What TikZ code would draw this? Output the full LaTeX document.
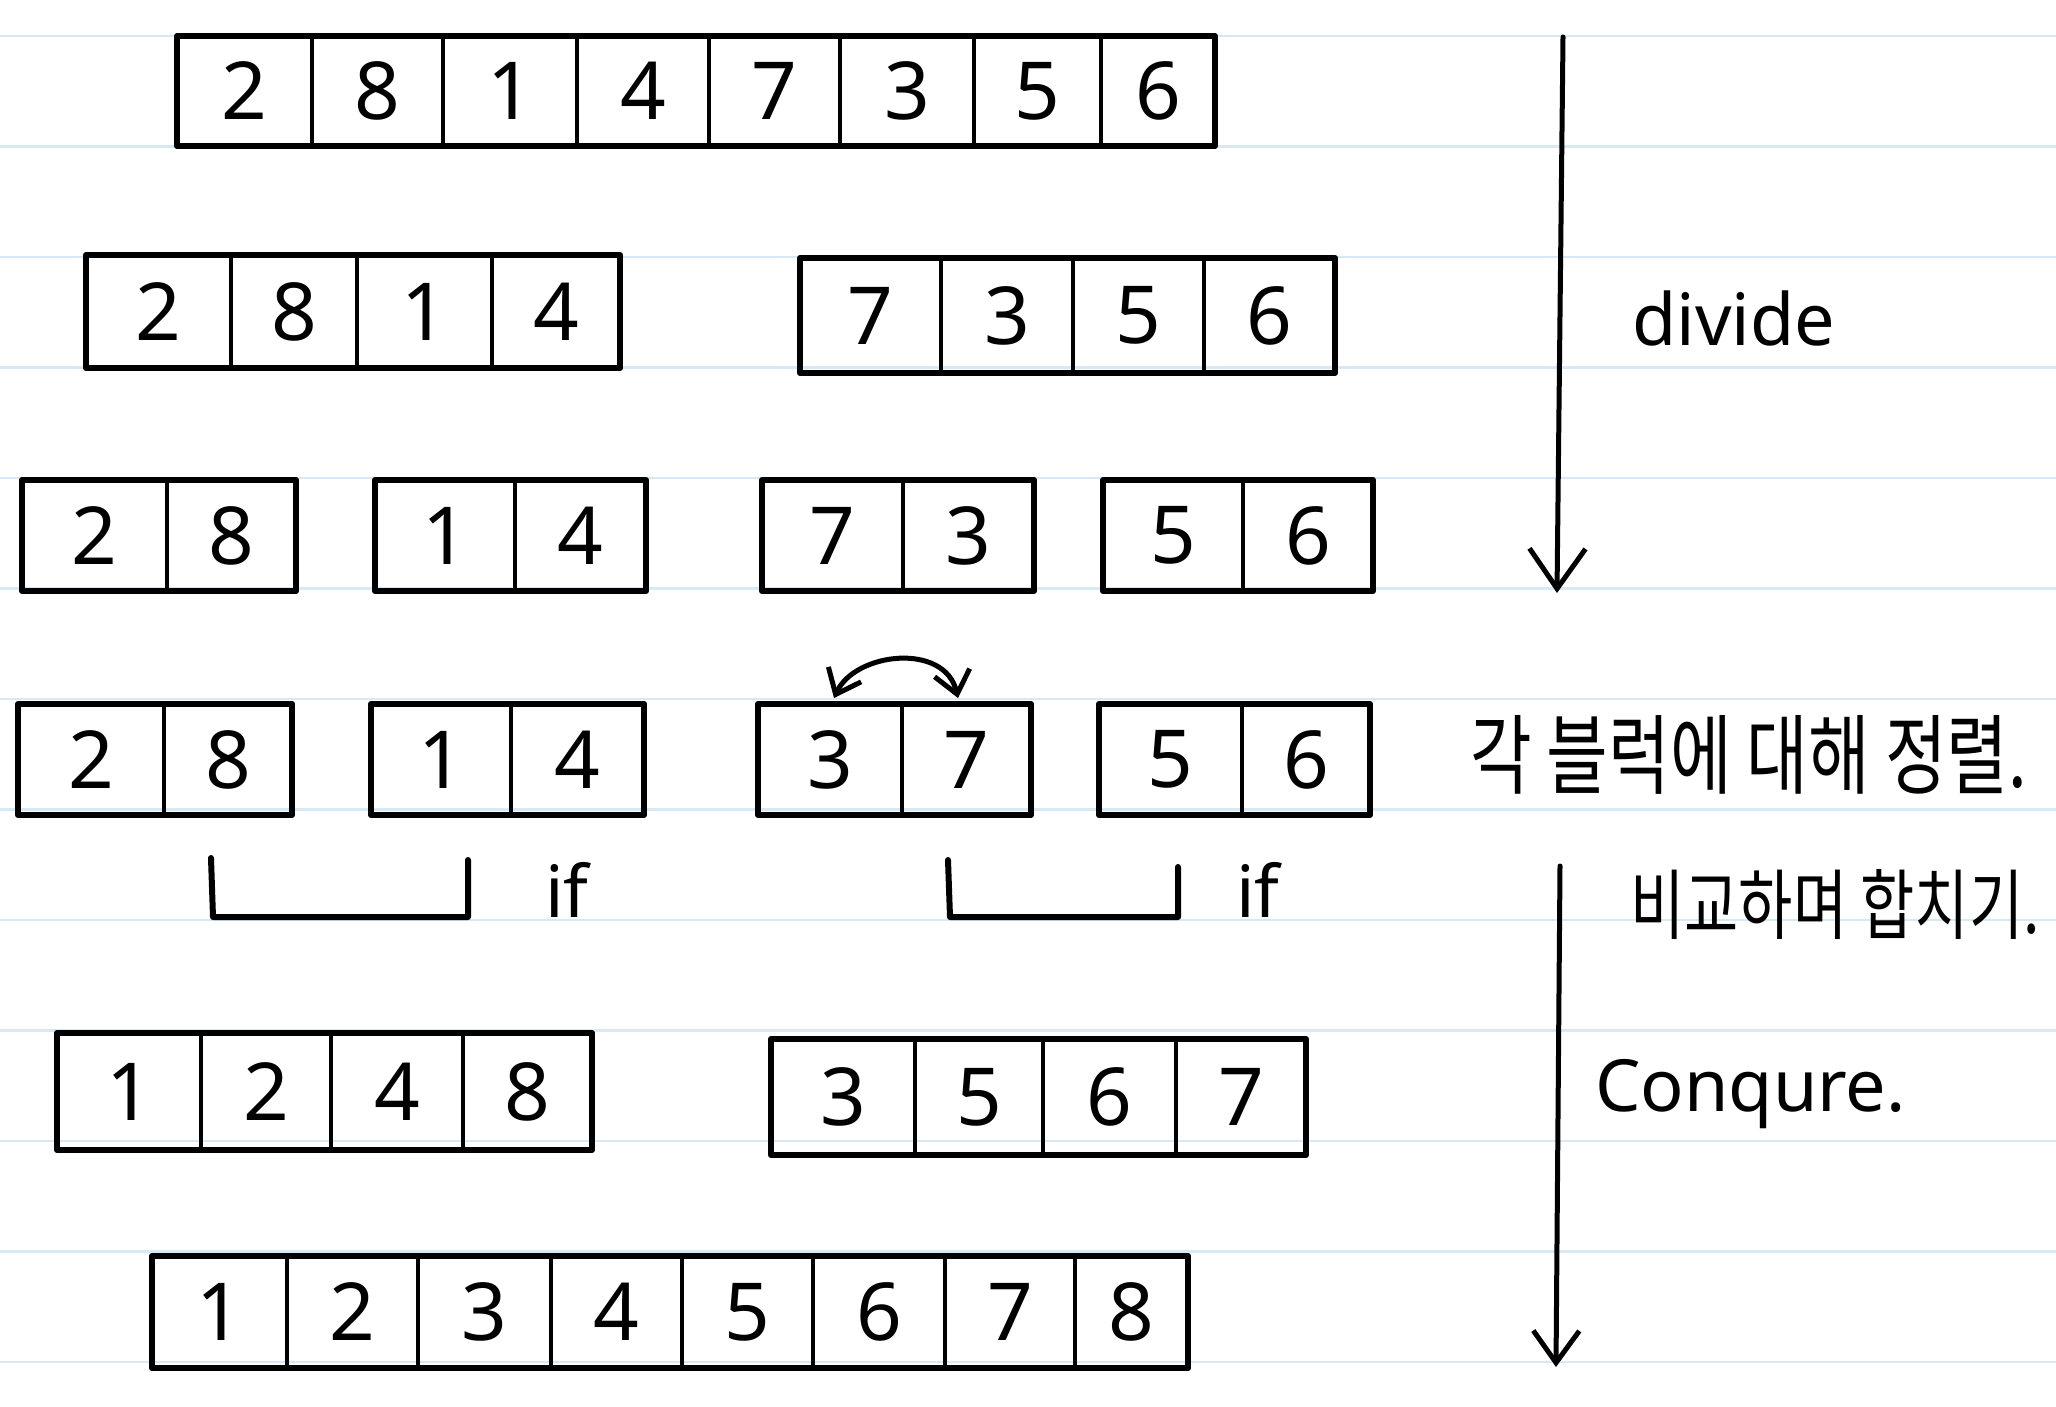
\documentclass[tikz,border=0pt]{standalone}
\usepackage{fontspec}
\setmainfont{Noto Sans}
\newfontfamily\krfont{Noto Sans CJK KR}
\usetikzlibrary{arrows.meta}
\definecolor{ruleblue}{RGB}{214,233,244}
\newcommand\digitfont{\fontsize{80}{80}\selectfont}
\newcommand\mkrow[5]{%
  \foreach \xl/\xr/\d [count=\i] in {#5}{%
    \node[cell, minimum width={(\xr-\xl)*1pt}, minimum height={(#3-#2)*1pt}] (#1-\i) at ({(\xl+\xr)/2},{(#2+#3)/2}) {\d};
  }
  \draw[frame] (#1-1.north west) rectangle (#1-#4.south east);
}
\begin{document}
\begin{tikzpicture}[x=1pt,y=-1pt,
  cell/.style={draw, line width=4pt, inner sep=0pt, outer sep=0pt, font=\digitfont},
  frame/.style={line width=6pt, line join=round},
  rulestyle/.style={ruleblue, line width=2.5pt},
  lbl/.style={inner sep=0pt, font=\fontsize{72}{72}\selectfont},
  brk/.style={line width=6pt, line join=round, line cap=round},
  bigarrow/.style={line width=5pt, line cap=round, -{Straight Barb[length=40pt,width=56pt]}},
  bigarrowb/.style={line width=5pt, line cap=round, -{Straight Barb[length=32pt,width=46pt]}},
  swaparrow/.style={line width=5pt, line cap=round, {Straight Barb[length=22pt,width=36pt]}-{Straight Barb[length=22pt,width=36pt]}}
]
\fill[white] (0,0) rectangle (2056,1407);
\useasboundingbox (0,0) rectangle (2056,1407);
\foreach \k in {0,...,12}{\draw[rulestyle] (0,{36+110.5*\k}) -- (2056,{36+110.5*\k});}

% row 1
\mkrow{ra}{36}{146}{8}{177/312/2,312/443/8,443/577/1,577/709/4,709/840/7,840/974/3,974/1101/5,1101/1215/6}
% row 2
\mkrow{rbl}{255}{368}{4}{86/231/2,231/357/8,357/492/1,492/620/4}
\mkrow{rbr}{258}{373}{4}{800/941/7,941/1073/3,1073/1204/5,1204/1335/6}
% row 3
\mkrow{rca}{480}{591}{2}{22/167/2,167/296/8}
\mkrow{rcb}{480}{591}{2}{375/515/1,515/646/4}
\mkrow{rcc}{480}{591}{2}{762/903/7,903/1034/3}
\mkrow{rcd}{480}{591}{2}{1103/1243/5,1243/1373/6}
% row 4
\mkrow{rda}{704}{815}{2}{18/164/2,164/292/8}
\mkrow{rdb}{704}{815}{2}{371/511/1,511/644/4}
\mkrow{rdc}{704}{815}{2}{758/902/3,902/1031/7}
\mkrow{rdd}{704}{815}{2}{1099/1242/5,1242/1370/6}
% row 6
\mkrow{rfl}{1033}{1150}{4}{57/201/1,201/331/2,331/463/4,463/592/8}
\mkrow{rfr}{1039}{1155}{4}{771/915/3,915/1043/5,1043/1176/6,1176/1306/7}
% row 7
\mkrow{rg}{1256}{1368}{8}{152/287/1,287/418/2,418/551/3,551/682/4,682/813/5,813/945/6,945/1075/7,1075/1188/8}

% swap arrow
\coordinate (swl) at (834,698);
\coordinate (swr) at (958,698);
\draw[swaparrow] (swl) .. controls (855,652) and (945,642) .. (swr);

% brackets
\coordinate (b1a) at (211,858); \coordinate (b1b) at (213,917);
\coordinate (b1c) at (468,917); \coordinate (b1d) at (468,860);
\draw[brk] (b1a) -- (b1b) -- (b1c) -- (b1d);
\coordinate (b2a) at (948,860); \coordinate (b2b) at (950,917);
\coordinate (b2c) at (1178,917); \coordinate (b2d) at (1178,867);
\draw[brk] (b2a) -- (b2b) -- (b2c) -- (b2d);
\node[lbl, anchor=base] (if1) at (567,917) {if};
\node[lbl, anchor=base] (if2) at (1258,917) {if};

% divide arrow
\coordinate (dtop) at (1563,37);
\coordinate (dbot) at (1557,593);
\draw[bigarrow] (dtop) -- (dbot);
\node[lbl, anchor=base west] (divide) at (1632,345) {divide};

% conquer arrow
\coordinate (ctop) at (1560,866);
\coordinate (cbot) at (1556,1367);
\draw[bigarrowb] (ctop) -- (cbot);
\node[lbl, anchor=base west] (conq) at (1595,1111) {Conqure.};

% korean notes
\node[inner sep=0pt, anchor=west] (sortnote) at (1470,755) {\scalebox{1}[1.3]{\krfont\fontsize{67}{67}\selectfont 각 블럭에 대해 정렬.}};
\node[inner sep=0pt, anchor=west] (mergenote) at (1630,904) {\scalebox{1}[1.3]{\krfont\fontsize{59}{59}\selectfont 비교하며 합치기.}};
\end{tikzpicture}
\end{document}
